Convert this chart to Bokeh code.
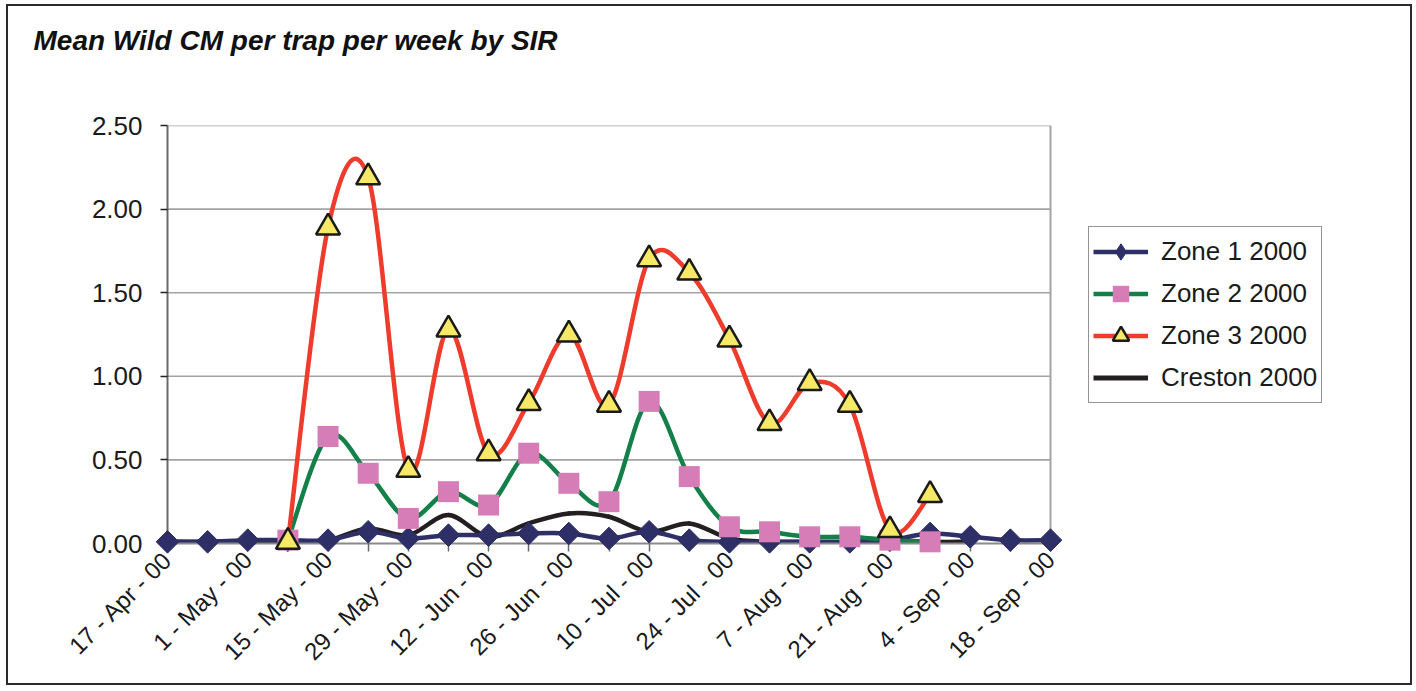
import math
import numpy as np
from bokeh.plotting import figure
from bokeh.models import (Range1d, FixedTicker, Legend, LegendItem, Title,
                          PrintfTickFormatter, ColumnDataSource)
from bokeh.embed import file_html
from bokeh.resources import INLINE

# ---------------- data ----------------
weeks = ["17 - Apr - 00", "24 - Apr - 00", "1 - May - 00", "8 - May - 00",
         "15 - May - 00", "22 - May - 00", "29 - May - 00", "5 - Jun - 00",
         "12 - Jun - 00", "19 - Jun - 00", "26 - Jun - 00", "3 - Jul - 00",
         "10 - Jul - 00", "17 - Jul - 00", "24 - Jul - 00", "31 - Jul - 00",
         "7 - Aug - 00", "14 - Aug - 00", "21 - Aug - 00", "28 - Aug - 00",
         "4 - Sep - 00", "11 - Sep - 00", "18 - Sep - 00"]

nan = float("nan")
zone1 = [0.01, 0.01, 0.02, 0.02, 0.02, 0.07, 0.03, 0.05, 0.05, 0.06, 0.06, 0.03,
         0.07, 0.02, 0.01, 0.01, 0.01, 0.01, 0.02, 0.06, 0.04, 0.02, 0.02]
zone2 = [nan, nan, nan, 0.02, 0.64, 0.42, 0.15, 0.31, 0.23, 0.54, 0.36, 0.25,
         0.85, 0.40, 0.10, 0.07, 0.04, 0.04, 0.02, 0.01, nan, nan, nan]
zone3 = [nan, nan, nan, 0.01, 1.89, 2.19, 0.44, 1.28, 0.54, 0.84, 1.25, 0.83,
         1.70, 1.62, 1.22, 0.72, 0.96, 0.83, 0.08, 0.29, nan, nan, nan]
creston = [0.01, 0.01, 0.01, 0.01, 0.02, 0.09, 0.05, 0.17, 0.04, 0.12, 0.18, 0.16,
           0.07, 0.12, 0.03, 0.01, 0.01, 0.01, 0.02, 0.01, 0.01, nan, nan]

series_names = ["Zone 1 2000", "Zone 2 2000", "Zone 3 2000", "Creston 2000"]
y_ticks = [0.0, 0.5, 1.0, 1.5, 2.0, 2.5]
chart_title = "Mean Wild CM per trap per week by SIR"

# ---------------- helpers ----------------
def smooth_source(vals):
    """Catmull-Rom style Bezier segments through the valid points (Excel smoothed line)."""
    xs = np.arange(len(vals), dtype=float)
    ys = np.array(vals, dtype=float)
    ok = ~np.isnan(ys)
    xs, ys = xs[ok], ys[ok]
    n = len(xs)
    d = dict(x0=[], y0=[], x1=[], y1=[], cx0=[], cy0=[], cx1=[], cy1=[])
    for k in range(n - 1):
        p0 = (xs[k - 1], ys[k - 1]) if k > 0 else (xs[k], ys[k])
        p1 = (xs[k], ys[k])
        p2 = (xs[k + 1], ys[k + 1])
        p3 = (xs[k + 2], ys[k + 2]) if k + 2 < n else (xs[k + 1], ys[k + 1])
        d["x0"].append(p1[0]); d["y0"].append(p1[1])
        d["x1"].append(p2[0]); d["y1"].append(p2[1])
        d["cx0"].append(p1[0] + (p2[0] - p0[0]) / 6.0)
        d["cy0"].append(p1[1] + (p2[1] - p0[1]) / 6.0)
        d["cx1"].append(p2[0] - (p3[0] - p1[0]) / 6.0)
        d["cy1"].append(p2[1] - (p3[1] - p1[1]) / 6.0)
    return ColumnDataSource(d)

def point_source(vals):
    xs = np.arange(len(vals), dtype=float)
    ys = np.array(vals, dtype=float)
    ok = ~np.isnan(ys)
    return ColumnDataSource(dict(x=xs[ok], y=ys[ok]))

FONT = "Liberation Sans"
NAVY = "#2d2f66"
GREEN = "#13804a"
RED = "#ee3b2b"
BLACK = "#231f20"
PINK = "#d67db7"
YELLOW = "#f7e866"
GRID = "#a3a3a3"

# ---------------- layout numbers ----------------
W, H = 1406, 681
LEFT, RIGHT, TOP, BOTTOM = 159, 84, 119, 144
PLOT_W = 883                      # width of the visible plot area (px)
FRAME_W = W - LEFT - RIGHT        # frame also holds the legend on its right
x_last = len(weeks) - 1
x_end = x_last * FRAME_W / PLOT_W

p = figure(width=W, height=H, output_backend="svg", toolbar_location=None,
           x_range=Range1d(0, x_end), y_range=Range1d(y_ticks[0], y_ticks[-1]),
           min_border_left=LEFT, min_border_right=RIGHT, min_border_top=TOP,
           min_border_bottom=BOTTOM)
p.styles = {"border": "2px solid #2a2a2a", "margin-left": "6px", "margin-top": "4px"}
p.background_fill_color = "white"
p.border_fill_color = "white"
p.outline_line_color = None
p.xgrid.visible = False
p.ygrid.visible = False

# plot-area grid lines and right border (stop at the last week)
p.segment(x0=[0] * (len(y_ticks) - 1), x1=[x_last] * (len(y_ticks) - 1),
          y0=y_ticks[1:], y1=y_ticks[1:], line_color=GRID, line_width=1.6, level="underlay")
p.segment(x0=[x_last], x1=[x_last], y0=[y_ticks[0]], y1=[y_ticks[-1]],
          line_color=GRID, line_width=2, level="underlay")

# y axis
p.yaxis.ticker = FixedTicker(ticks=y_ticks)
p.yaxis.formatter = PrintfTickFormatter(format="%.2f")
p.yaxis.axis_line_color = "#6a6a6a"
p.yaxis.axis_line_width = 2
p.yaxis.major_tick_line_color = "#222222"
p.yaxis.major_tick_line_width = 1.5
p.yaxis.major_tick_out = 7
p.yaxis.major_tick_in = 0
p.yaxis.minor_tick_line_color = None
p.yaxis.major_label_text_font = FONT
p.yaxis.major_label_text_font_size = "26px"
p.yaxis.major_label_text_color = "#1a1a1a"
p.yaxis.major_label_standoff = 18

# x axis
p.xaxis.bounds = (0, x_last)
p.xaxis.ticker = FixedTicker(ticks=list(range(len(weeks))))
p.xaxis.major_label_overrides = {i: (weeks[i] if i % 2 == 0 else "") for i in range(len(weeks))}
p.xaxis.major_label_orientation = math.pi / 4
p.xaxis.axis_line_color = "#8a8a8a"
p.xaxis.axis_line_width = 2
p.xaxis.major_tick_line_color = "#6a6a6a"
p.xaxis.major_tick_line_width = 1.5
p.xaxis.major_tick_out = 8
p.xaxis.major_tick_in = 0
p.xaxis.minor_tick_line_color = None
p.xaxis.major_label_text_font = FONT
p.xaxis.major_label_text_font_size = "24px"
p.xaxis.major_label_text_color = "#1a1a1a"
p.xaxis.major_label_standoff = 4

# lines (smoothed)
p.bezier(source=smooth_source(creston), line_color=BLACK, line_width=4.5, line_cap="round")
p.bezier(source=smooth_source(zone1), line_color=NAVY, line_width=4.5, line_cap="round")
p.bezier(source=smooth_source(zone2), line_color=GREEN, line_width=4.5, line_cap="round")
p.bezier(source=smooth_source(zone3), line_color=RED, line_width=4.5, line_cap="round")

# markers
m1 = p.scatter("x", "y", source=point_source(zone1), marker="square", angle=math.pi / 4,
               size=16, fill_color=NAVY, line_color=NAVY, line_width=1, level="overlay")
m2 = p.scatter("x", "y", source=point_source(zone2), marker="square", size=21,
               fill_color=PINK, line_color=None, level="overlay")
m3 = p.scatter("x", "y", source=point_source(zone3), marker="triangle", size=24,
               fill_color=YELLOW, line_color="#1a1a1a", line_width=2.5, level="overlay")

# legend proxies (draw nothing in the plot, only their legend swatches)
l1 = p.line([0, 0], [nan, nan], line_color=NAVY, line_width=4.5)
l2 = p.line([0, 0], [nan, nan], line_color=GREEN, line_width=4.5)
l3 = p.line([0, 0], [nan, nan], line_color=RED, line_width=4.5)
l4 = p.line([0, 0], [nan, nan], line_color=BLACK, line_width=5)
d1 = p.scatter([0], [nan], marker="diamond", size=22, fill_color=NAVY, line_color=NAVY)

legend = Legend(items=[LegendItem(label=series_names[0], renderers=[l1, d1]),
                       LegendItem(label=series_names[1], renderers=[l2, m2]),
                       LegendItem(label=series_names[2], renderers=[l3, m3]),
                       LegendItem(label=series_names[3], renderers=[l4])],
                location=(PLOT_W + 38, 140), orientation="vertical")
legend.padding = 4
legend.margin = 0
legend.spacing = 1
legend.glyph_width = 55
legend.glyph_height = 41
legend.label_standoff = 13
legend.label_text_font = FONT
legend.label_text_font_size = "26px"
legend.label_text_color = "#1a1a1a"
legend.border_line_color = "#2a2a2a"
legend.border_line_width = 1.5
legend.background_fill_color = "white"
legend.background_fill_alpha = 1.0
p.add_layout(legend)

# title: an empty spacer next to the frame, the real title stacked above it
p.add_layout(Title(text=" ", text_font_size="1px", standoff=62), "above")
p.add_layout(Title(text=chart_title, align="left", offset=-134, standoff=10,
                   text_font=FONT, text_font_style="bold italic", text_font_size="28px",
                   text_color="#111111"), "above")

open("out.html", "w").write(file_html(p, INLINE))
